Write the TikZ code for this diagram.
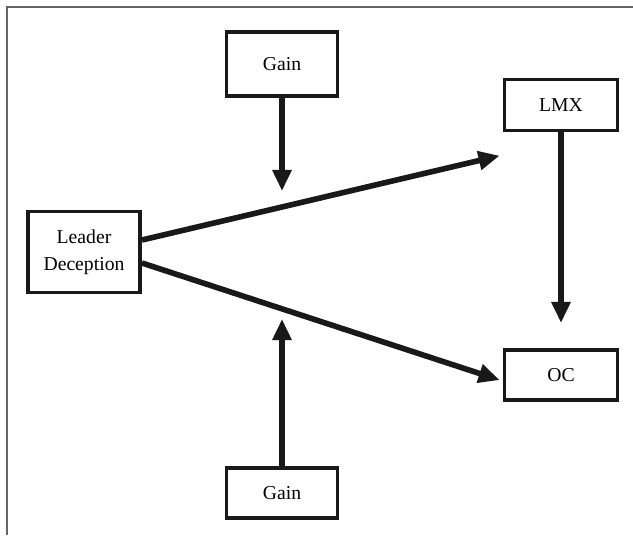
\documentclass[tikz,border=0pt]{standalone}
\usepackage{fontspec}
\setmainfont{Liberation Serif}
\usetikzlibrary{arrows.meta, positioning}

\tikzset{
    box/.style={draw=black!90, line width=2.8pt, fill=white, align=center,
        font=\fontsize{14}{19}\selectfont, inner sep=0pt},
    link/.style={line width=4pt, draw=black!90,
        -{Triangle[length=15pt, width=13pt]}}
}

\begin{document}
\begin{tikzpicture}[x=0.025cm, y=-0.025cm]
    % picture size and the open frame
    \useasboundingbox (0,0) rectangle (633,535);
    \draw[black!60, line width=1.8pt] (7,535) -- (7,7) -- (633,7);

    % boxes
    \node[box, minimum width=111*0.025cm, minimum height=64*0.025cm] (gaintop) at (282,64) {Gain};
    \node[box, minimum width=113*0.025cm, minimum height=51*0.025cm] (lmx) at (561,105) {LMX};
    \node[box, minimum width=112*0.025cm, minimum height=81*0.025cm] (deception) at (84,252) {Leader\\Deception};
    \node[box, minimum width=113*0.025cm, minimum height=50*0.025cm] (oc) at (561,375) {OC};
    \node[box, minimum width=111*0.025cm, minimum height=50*0.025cm] (gainbot) at (282,493) {Gain};

    % free ends of the moderator arrows
    \coordinate (toptip) at (282,191);
    \coordinate (bottip) at (282,319);

    % paths
    \draw[link, shorten >=3*0.025cm] (deception.east |- 0,240) -- (lmx.west |- 0,155);
    \draw[link, shorten >=3*0.025cm] (deception.east |- 0,263) -- (oc.west |- 0,381);
    \draw[link] (lmx.south) -- (oc.north |- 0,323);
    \draw[link] (gaintop.south) -- (toptip);
    \draw[link] (gainbot.north) -- (bottip);
\end{tikzpicture}
\end{document}
